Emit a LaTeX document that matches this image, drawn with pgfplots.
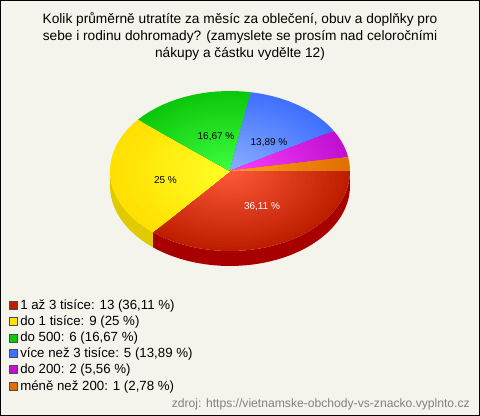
\documentclass[border=0pt]{standalone}
\usepackage{fontspec}
\setmainfont{Liberation Sans}
\usepackage{pgfplots}
\usepackage{pgfplotstable}
\pgfplotsset{compat=1.18}
\pgfplotstableread{
val
13
9
6
5
2
1
}\pietable
\definecolor{bg}{HTML}{F5F4EC}
\definecolor{lo0}{HTML}{BE1E00}\definecolor{hi0}{HTML}{FF5A3C}
\definecolor{lo1}{HTML}{FFE000}\definecolor{hi1}{HTML}{FFFF28}
\definecolor{lo2}{HTML}{0CC80C}\definecolor{hi2}{HTML}{40FF40}
\definecolor{lo3}{HTML}{4070FF}\definecolor{hi3}{HTML}{8CB0FF}
\definecolor{lo4}{HTML}{C010D0}\definecolor{hi4}{HTML}{FF40FF}
\definecolor{lo5}{HTML}{E07000}\definecolor{hi5}{HTML}{FFA020}
\definecolor{wall0}{HTML}{A80000}
\definecolor{wall1}{HTML}{E2CA00}
\def\cx{230}\def\cy{171}\def\rx{120}\def\ry{80}\def\dep{15}
\newcommand\sector[4]{%
  \gdef\coords{(\cx,\cy)}%
  \pgfmathtruncatemacro\nn{max(2,ceil((#2-#1)/4))}%
  \foreach \i in {0,...,\nn}{%
    \pgfmathsetmacro\ang{#1+(#2-#1)*\i/\nn}%
    \pgfmathsetmacro\ptx{\cx+\rx*#3*cos(\ang)}%
    \pgfmathsetmacro\pty{\cy+\ry*#3*sin(\ang)}%
    \xdef\coords{\coords (\ptx,\pty)}%
  }%
  \edef\doit{\noexpand\addplot[draw=none,fill=#4,forget plot] coordinates {\coords};}\doit
}
\newcommand\wall[3]{%
  \gdef\coords{}%
  \pgfmathtruncatemacro\nn{max(2,ceil((#2-#1)/4))}%
  \foreach \i in {0,...,\nn}{%
    \pgfmathsetmacro\ang{#1+(#2-#1)*\i/\nn}%
    \pgfmathsetmacro\ptx{\cx+\rx*cos(\ang)}%
    \pgfmathsetmacro\pty{\cy+\ry*sin(\ang)}%
    \xdef\coords{\coords (\ptx,\pty)}%
  }%
  \foreach \i in {\nn,...,0}{%
    \pgfmathsetmacro\ang{#1+(#2-#1)*\i/\nn}%
    \pgfmathsetmacro\ptx{\cx+\rx*cos(\ang)}%
    \pgfmathsetmacro\pty{\cy+\dep+\ry*sin(\ang)}%
    \xdef\coords{\coords (\ptx,\pty)}%
  }%
  \edef\doit{\noexpand\addplot[draw=none,fill=#3,forget plot] coordinates {\coords};}\doit
}
\begin{document}
\begin{tikzpicture}
\begin{axis}[scale only axis,width=360pt,height=312pt,xmin=0,xmax=480,ymin=0,ymax=416,
  y dir=reverse,hide axis,clip=true]
\addplot[draw=black,line width=0.9pt,fill=bg,forget plot] coordinates {(0.5,0.5)(479.5,0.5)(479.5,415.2)(0.5,415.2)(0.5,0.5)};
\pgfplotstablegetelem{0}{val}\of\pietable\pgfmathsetmacro\aA{\pgfplotsretval*10}
\wall{0}{\aA}{wall0}
\wall{\aA}{180}{wall1}
\gdef\cum{0}
\foreach \k in {0,...,5}{%
  \pgfplotstablegetelem{\k}{val}\of\pietable
  \pgfmathsetmacro\astart{\cum}%
  \pgfmathsetmacro\aend{\cum+\pgfplotsretval*360/36}%
  \xdef\cum{\aend}%
  \foreach \pct in {0,4,...,98}{%
    \pgfmathsetmacro\rfr{1-\pct/100}%
    \sector{\astart}{\aend}{\rfr}{hi\k!\pct!lo\k}%
  }%
}
\addplot[only marks,mark=square*,mark size=2.9pt,mark options={fill=lo0,draw=black!70,line width=0.45pt},forget plot] coordinates {(13,305)};
\addplot[only marks,mark=square*,mark size=2.9pt,mark options={fill=lo1,draw=black!70,line width=0.45pt},forget plot] coordinates {(13,321)};
\addplot[only marks,mark=square*,mark size=2.9pt,mark options={fill=lo2,draw=black!70,line width=0.45pt},forget plot] coordinates {(13,338)};
\addplot[only marks,mark=square*,mark size=2.9pt,mark options={fill=lo3,draw=black!70,line width=0.45pt},forget plot] coordinates {(13,353)};
\addplot[only marks,mark=square*,mark size=2.9pt,mark options={fill=lo4,draw=black!70,line width=0.45pt},forget plot] coordinates {(13,369)};
\addplot[only marks,mark=square*,mark size=2.9pt,mark options={fill=lo5,draw=black!70,line width=0.45pt},forget plot] coordinates {(13,386)};
\node[inner sep=0pt,font=\fontsize{10.28pt}{12pt}\selectfont] at (axis cs:240,19.5) {Kolik průměrně utratíte za měsíc za oblečení, obuv a doplňky pro};
\node[inner sep=0pt,font=\fontsize{10.28pt}{12pt}\selectfont] at (axis cs:240,36.5) {sebe i rodinu dohromady? (zamyslete se prosím nad celoročními};
\node[inner sep=0pt,font=\fontsize{10.28pt}{12pt}\selectfont] at (axis cs:240,53.5) {nákupy a částku vydělte 12)};
\node[inner sep=0pt,font=\fontsize{7.5pt}{9pt}\selectfont,text=white] at (axis cs:262,207) {36,11 \%};
\node[inner sep=0pt,font=\fontsize{7.5pt}{9pt}\selectfont] at (axis cs:165.5,180) {25 \%};
\node[inner sep=0pt,font=\fontsize{7.5pt}{9pt}\selectfont] at (axis cs:216,137) {16,67 \%};
\node[inner sep=0pt,font=\fontsize{7.5pt}{9pt}\selectfont] at (axis cs:269,143) {13,89 \%};
\node[inner sep=0pt,anchor=west,font=\fontsize{9.95pt}{11pt}\selectfont] at (axis cs:20,305.5) {1 až 3 tisíce: 13 (36,11 \%)};
\node[inner sep=0pt,anchor=west,font=\fontsize{9.95pt}{11pt}\selectfont] at (axis cs:20,321.7) {do 1 tisíce: 9 (25 \%)};
\node[inner sep=0pt,anchor=west,font=\fontsize{9.95pt}{11pt}\selectfont] at (axis cs:20,337.9) {do 500: 6 (16,67 \%)};
\node[inner sep=0pt,anchor=west,font=\fontsize{9.95pt}{11pt}\selectfont] at (axis cs:20,354.1) {více než 3 tisíce: 5 (13,89 \%)};
\node[inner sep=0pt,anchor=west,font=\fontsize{9.95pt}{11pt}\selectfont] at (axis cs:20,370.3) {do 200: 2 (5,56 \%)};
\node[inner sep=0pt,anchor=west,font=\fontsize{9.95pt}{11pt}\selectfont] at (axis cs:20,386.5) {méně než 200: 1 (2,78 \%)};
\node[inner sep=0pt,anchor=east,font=\fontsize{9.1pt}{10pt}\selectfont,text=black!50] at (axis cs:470,404) {zdroj: https://vietnamske-obchody-vs-znacko.vyplnto.cz};
\end{axis}
\end{tikzpicture}
\end{document}
